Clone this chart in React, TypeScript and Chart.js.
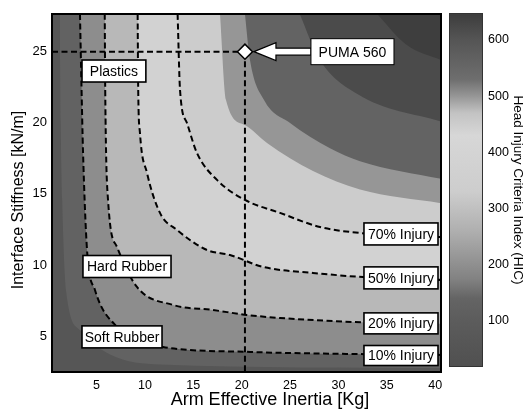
import { useEffect, useRef } from "react";
import { Chart, registerables } from "chart.js";

Chart.register(...registerables);

const FONT = "'Liberation Sans', Arial, Helvetica, sans-serif";
Chart.defaults.font.family = FONT;

// ---------- axes ----------
const xRange = [0.4, 40.6];
const yRange = [2.47, 27.65];
const hicRange = [18, 648];
const xTicks = [5, 10, 15, 20, 25, 30, 35, 40];
const yTicks = [5, 10, 15, 20, 25];
const hicTicks = [100, 200, 300, 400, 500, 600];

const xTitle = "Arm Effective Inertia [Kg]";
const yTitle = "Interface Stiffness [kN/m]";
const hicTitle = "Head Injury Criteria Index (HIC)";

// ---------- grey colour map (HIC value -> grey level) ----------
const cmapValues = [18, 100, 140, 175, 260, 330, 430, 470, 500, 530, 600, 648];
const cmapGrays = [80, 92, 100, 130, 175, 205, 215, 195, 150, 110, 85, 60];

// ---------- iso-HIC curves (x = arm inertia [kg], y = stiffness [kN/m]) ----------
const hicLevels = [100, 160, 230, 330, 430, 476, 524, 600, 640];

const iso100X = [1.2, 1.3, 1.45, 1.85, 3.3, 6.4, 11.6, 41];
const iso100Y = [27.65, 20, 14.6, 8.2, 5.4, 3.7, 3.0, 2.75];

const injury10X = [3.29, 3.45, 3.6, 4.02, 4.84, 7.12, 9.49, 11.87, 20.86, 31.19, 41];
const injury10Y = [27.65, 22.5, 18.1, 11.05, 8.24, 5.64, 4.72, 4.23, 3.88, 3.74, 3.67];

const injury20X = [5.85, 5.9, 6.19, 7.12, 9.18, 12.9, 17.04, 20.55, 23.96, 31.5, 41];
const injury20Y = [27.65, 22.3, 14.57, 11.26, 8.45, 7.19, 6.83, 6.48, 6.27, 5.99, 5.85];

const injury50X = [9.25, 9.31, 9.49, 10.22, 11.56, 13.32, 16.42, 18.79, 22.2, 27.37, 32.54, 41];
const injury50Y = [27.65, 22.31, 19.28, 16.47, 13.66, 12.46, 11.05, 10.7, 9.86, 9.44, 9.15, 8.94];

const injury70X = [13.38, 13.63, 14.35, 15.38, 17.45, 20.34, 23.96, 28.09, 32.23, 41];
const injury70Y = [27.65, 22.31, 19.98, 17.87, 15.98, 14.57, 13.66, 12.67, 12.25, 11.95];

const iso476X = [17.76, 18.38, 20.34, 22.62, 27.37, 32.23, 41];
const iso476Y = [27.65, 21.6, 19.84, 18.58, 16.6, 15.3, 14.3];

const iso524X = [20.34, 20.86, 22.31, 25.0, 29.13, 32.23, 41];
const iso524Y = [27.65, 24.42, 21.6, 19.98, 18.2, 17.3, 16.0];

const iso600X = [26, 28, 32, 41];
const iso600Y = [27.65, 24.5, 22, 20];

const iso640X = [34, 37, 41];
const iso640Y = [27.65, 25.5, 24.3];

// PUMA 560 operating point
const pumaX = [20.34];
const pumaY = [25];

const injuryLabels = ["10% Injury", "20% Injury", "50% Injury", "70% Injury"];

// ---------- helpers ----------
function grayAt(v: number): number {
  const vs = cmapValues, gs = cmapGrays;
  if (v <= vs[0]) return gs[0];
  if (v >= vs[vs.length - 1]) return gs[gs.length - 1];
  for (let i = 0; i < vs.length - 1; i++) {
    if (v >= vs[i] && v <= vs[i + 1]) {
      const t = (v - vs[i]) / (vs[i + 1] - vs[i]);
      return gs[i] + t * (gs[i + 1] - gs[i]);
    }
  }
  return gs[0];
}
function grayCss(g: number): string {
  const r = Math.round(g);
  return `rgb(${r},${r},${r})`;
}
function pts(xs: number[], ys: number[]) {
  return xs.map((x, i) => ({ x, y: ys[i] }));
}

const isoCurves = [
  { x: iso100X, y: iso100Y },
  { x: injury10X, y: injury10Y },
  { x: injury20X, y: injury20Y },
  { x: injury50X, y: injury50Y },
  { x: injury70X, y: injury70Y },
  { x: iso476X, y: iso476Y },
  { x: iso524X, y: iso524Y },
  { x: iso600X, y: iso600Y },
  { x: iso640X, y: iso640Y },
];
const injuryCurves = [isoCurves[1], isoCurves[2], isoCurves[3], isoCurves[4]];

// annotation placement (data coordinates)
const labelBoxes = [
  { text: "Plastics", x0: 3.5, x1: 10.1, y: 23.64, h: 22 },
  { text: "Hard Rubber", x0: 3.6, x1: 12.7, y: 9.89, h: 22 },
  { text: "Soft Rubber", x0: 3.5, x1: 11.77, y: 4.94, h: 22 },
  { text: injuryLabels[3], x0: 32.64, x1: 40.29, y: 12.18, h: 22 },
  { text: injuryLabels[2], x0: 32.64, x1: 40.29, y: 9.09, h: 22 },
  { text: injuryLabels[1], x0: 32.64, x1: 40.29, y: 5.89, h: 21 },
  { text: injuryLabels[0], x0: 32.64, x1: 40.29, y: 3.63, h: 20 },
];
const pumaBox = { text: "PUMA 560", x0: 27.16, x1: 35.74, h: 26 };

function mainConfig(): any {
  const baseGray = grayAt((hicRange[0] + hicLevels[0]) / 2);

  const fillSets = isoCurves.map((c, i) => {
    const lo = hicLevels[i];
    const hi = i + 1 < hicLevels.length ? hicLevels[i + 1] : hicRange[1];
    return {
      data: pts(c.x, c.y),
      fill: "end",
      backgroundColor: grayCss(grayAt((lo + hi) / 2)),
      borderColor: "rgba(0,0,0,0)",
      borderWidth: 0,
      pointRadius: 0,
      cubicInterpolationMode: "monotone",
      order: 100 + isoCurves.length - i,
    };
  });

  const dashed = {
    fill: false,
    borderColor: "#000",
    borderWidth: 2,
    borderDash: [6, 3.5],
    pointRadius: 0,
  };

  const injurySets = injuryCurves.map((c) => ({
    ...dashed,
    data: pts(c.x, c.y),
    cubicInterpolationMode: "monotone",
    order: 10,
  }));

  const crossH = {
    ...dashed,
    data: [
      { x: xRange[0], y: pumaY[0] },
      { x: pumaX[0], y: pumaY[0] },
    ],
    tension: 0,
    order: 9,
  };
  const crossV = {
    ...dashed,
    data: [
      { x: pumaX[0], y: pumaY[0] },
      { x: pumaX[0], y: yRange[0] },
    ],
    tension: 0,
    order: 9,
  };
  const puma = {
    data: pts(pumaX, pumaY),
    showLine: false,
    pointStyle: "rectRot",
    pointRadius: 7.5,
    pointBackgroundColor: "#fff",
    pointBorderColor: "#000",
    pointBorderWidth: 1.5,
    order: 0,
  };

  const annotate = {
    id: "annotate",
    beforeDatasetsDraw(chart: any) {
      const { ctx, chartArea: a } = chart;
      ctx.save();
      ctx.fillStyle = grayCss(baseGray);
      ctx.fillRect(a.left, a.top, a.right - a.left, a.bottom - a.top);
      ctx.restore();
    },
    afterDatasetsDraw(chart: any) {
      const { ctx, chartArea: a } = chart;
      const xs = chart.scales.x, ys = chart.scales.y;
      ctx.save();
      ctx.beginPath();
      ctx.rect(a.left, a.top, a.right - a.left, a.bottom - a.top);
      ctx.clip();

      // arrow from PUMA box to marker
      const cy = ys.getPixelForValue(pumaY[0]);
      const tip = xs.getPixelForValue(pumaX[0]) + 9;
      const tail = xs.getPixelForValue(pumaBox.x0);
      const headLen = 22, headH = 9, shaftH = 3.5;
      ctx.beginPath();
      ctx.moveTo(tip, cy);
      ctx.lineTo(tip + headLen, cy - headH);
      ctx.lineTo(tip + headLen, cy - shaftH);
      ctx.lineTo(tail, cy - shaftH);
      ctx.lineTo(tail, cy + shaftH);
      ctx.lineTo(tip + headLen, cy + shaftH);
      ctx.lineTo(tip + headLen, cy + headH);
      ctx.closePath();
      ctx.fillStyle = "#fff";
      ctx.fill();
      ctx.lineWidth = 1.2;
      ctx.strokeStyle = "#000";
      ctx.stroke();

      const drawBox = (text: string, x0: number, x1: number, yv: number, h: number, lw: number) => {
        const l = xs.getPixelForValue(x0);
        const r = xs.getPixelForValue(x1);
        const c = ys.getPixelForValue(yv);
        ctx.fillStyle = "#fff";
        ctx.fillRect(l, c - h / 2, r - l, h);
        ctx.lineWidth = lw;
        ctx.strokeStyle = "#000";
        ctx.strokeRect(l, c - h / 2, r - l, h);
        ctx.fillStyle = "#000";
        ctx.font = `14px ${FONT}`;
        ctx.textAlign = "center";
        ctx.textBaseline = "middle";
        ctx.fillText(text, (l + r) / 2, c + 1);
      };
      for (const b of labelBoxes) drawBox(b.text, b.x0, b.x1, b.y, b.h, 1.6);
      drawBox(pumaBox.text, pumaBox.x0, pumaBox.x1, pumaY[0], pumaBox.h, 1);
      ctx.restore();

      // frame
      ctx.save();
      ctx.lineWidth = 2;
      ctx.strokeStyle = "#000";
      ctx.strokeRect(a.left, a.top, a.right - a.left, a.bottom - a.top);
      ctx.restore();
    },
    afterDraw(chart: any) {
      const { ctx } = chart;
      ctx.save();
      ctx.fillStyle = "#000";
      ctx.textAlign = "center";
      ctx.textBaseline = "middle";
      ctx.font = `18px ${FONT}`;
      ctx.fillText(xTitle, 270, 400);
      ctx.translate(19, 200);
      ctx.rotate(-Math.PI / 2);
      ctx.font = `16px ${FONT}`;
      ctx.fillText(yTitle, 0, 0);
      ctx.restore();
    },
  };

  return {
    type: "line",
    data: {
      datasets: [puma, crossH, crossV, ...injurySets, ...fillSets],
    },
    options: {
      animation: false,
      responsive: false,
      events: [],
      layout: { padding: { left: 0, top: 14, right: 87, bottom: 0 } },
      elements: { point: { radius: 0 }, line: { capBezierPoints: false } },
      plugins: { legend: { display: false }, tooltip: { enabled: false } },
      scales: {
        x: {
          type: "linear",
          min: xRange[0],
          max: xRange[1],
          grid: { display: false, drawTicks: false },
          border: { display: false },
          ticks: { padding: 6, color: "#000", font: { size: 12.5 }, maxRotation: 0, autoSkip: false },
          afterBuildTicks: (s: any) => {
            s.ticks = xTicks.map((v) => ({ value: v }));
          },
          afterFit: (s: any) => {
            s.height = 41;
          },
          title: { display: false },
        },
        y: {
          type: "linear",
          min: yRange[0],
          max: yRange[1],
          grid: { display: false, drawTicks: false },
          border: { display: false },
          ticks: { padding: 5, color: "#000", font: { size: 13 }, autoSkip: false },
          afterBuildTicks: (s: any) => {
            s.ticks = yTicks.map((v) => ({ value: v }));
          },
          afterFit: (s: any) => {
            s.width = 52;
          },
          title: { display: false },
        },
      },
    },
    plugins: [annotate],
  };
}

function barConfig(): any {
  const frame = {
    id: "cbFrame",
    afterDatasetsDraw(chart: any) {
      const { ctx, chartArea: a } = chart;
      ctx.save();
      ctx.lineWidth = 1;
      ctx.strokeStyle = "#333";
      ctx.strokeRect(a.left + 0.5, a.top + 0.5, a.right - a.left - 1, a.bottom - a.top - 1);
      ctx.restore();
    },
  };
  return {
    type: "bar",
    data: {
      labels: ["HIC"],
      datasets: [
        {
          data: [hicRange],
          barPercentage: 1,
          categoryPercentage: 1,
          borderWidth: 0,
          backgroundColor: (ctx: any) => {
            const chart = ctx.chart;
            if (!chart.chartArea) return grayCss(180);
            const ys = chart.scales.y;
            const g = chart.ctx.createLinearGradient(
              0,
              ys.getPixelForValue(hicRange[0]),
              0,
              ys.getPixelForValue(hicRange[1])
            );
            cmapValues.forEach((v, i) => {
              g.addColorStop((v - hicRange[0]) / (hicRange[1] - hicRange[0]), grayCss(cmapGrays[i]));
            });
            return g;
          },
        },
      ],
    },
    options: {
      animation: false,
      responsive: false,
      events: [],
      layout: { padding: { left: 8, top: 13, right: 0, bottom: 46 } },
      plugins: { legend: { display: false }, tooltip: { enabled: false } },
      scales: {
        x: { display: false },
        y: {
          position: "right",
          min: hicRange[0],
          max: hicRange[1],
          grid: { display: false, drawTicks: false },
          border: { display: false },
          ticks: { padding: 5, color: "#000", font: { size: 12.5 }, autoSkip: false },
          afterBuildTicks: (s: any) => {
            s.ticks = hicTicks.map((v) => ({ value: v }));
          },
          afterFit: (s: any) => {
            s.width = 45;
          },
          title: {
            display: true,
            text: hicTitle,
            color: "#000",
            font: { size: 13.5 },
            padding: { top: 2, bottom: 0 },
          },
        },
      },
    },
    plugins: [frame],
  };
}

export default function App() {
  const mainRef = useRef<HTMLCanvasElement>(null);
  const barRef = useRef<HTMLCanvasElement>(null);

  useEffect(() => {
    const c1 = new Chart(mainRef.current as HTMLCanvasElement, mainConfig());
    const c2 = new Chart(barRef.current as HTMLCanvasElement, barConfig());
    return () => {
      c1.destroy();
      c2.destroy();
    };
  }, []);

  return (
    <div
      style={{
        position: "absolute",
        left: 0,
        top: 0,
        width: 528,
        height: 413,
        background: "#fff",
        overflow: "hidden",
      }}
    >
      <canvas
        ref={mainRef}
        width={528}
        height={413}
        style={{ position: "absolute", left: 0, top: 0, width: 528, height: 413 }}
      />
      <canvas
        ref={barRef}
        width={87}
        height={413}
        style={{ position: "absolute", left: 441, top: 0, width: 87, height: 413 }}
      />
    </div>
  );
}
